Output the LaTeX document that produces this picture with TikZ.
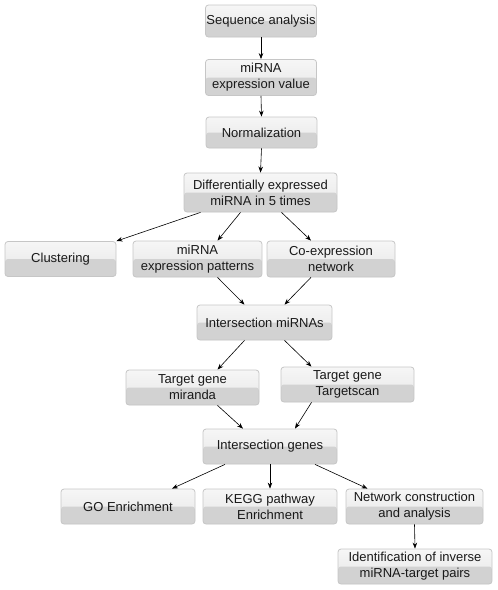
\documentclass[tikz,border=0pt]{standalone}
\usepackage{fontspec}
\setmainfont{Liberation Sans}
\usetikzlibrary{arrows.meta}
\definecolor{boxhigh}{HTML}{F6F6F6}
\definecolor{boxtop}{HTML}{E6E6E6}
\definecolor{boxlow}{HTML}{D2D2D2}
\definecolor{boxedge}{HTML}{C6C6C6}
\tikzset{
  flowbox/.style={draw=boxedge, line width=0.8pt, rounded corners=3pt,
    top color=boxhigh, bottom color=boxtop, align=center,
    minimum height=35pt, inner xsep=0pt, inner ysep=1pt,
    font=\fontsize{13}{16}\selectfont, text=black!90,
    path picture={\fill[boxlow] (path picture bounding box.west)
      rectangle (path picture bounding box.south east);}},
  flowarrow/.style={-{Stealth[length=6pt,width=4.5pt]}, line width=0.6pt}
}
\begin{document}
\begin{tikzpicture}[x=1pt,y=-1pt]
    \useasboundingbox (0,0) rectangle (498,590);
    \node[flowbox, minimum width=111pt, minimum height=32pt] (seq) at (261,21) {Sequence analysis};
    \node[flowbox, minimum width=111pt, minimum height=36pt] (mirna) at (261,77.5) {miRNA\\expression value};
    \node[flowbox, minimum width=111pt, minimum height=31pt] (norm) at (261.5,132.5) {Normalization};
    \node[flowbox, minimum width=153pt, minimum height=39pt] (diff) at (260.5,192.5) {Differentially expressed\\miRNA in 5 times};
    \node[flowbox, minimum width=111pt] (clus) at (60.5,259) {Clustering};
    \node[flowbox, minimum width=129pt, minimum height=36pt] (patt) at (197.5,259) {miRNA\\expression patterns};
    \node[flowbox, minimum width=128pt, minimum height=36pt] (coexp) at (331,259) {Co-expression\\network};
    \node[flowbox, minimum width=135pt] (intm) at (264.5,322.5) {Intersection miRNAs};
    \node[flowbox, minimum width=133pt] (mir) at (192.5,387.5) {Target gene\\miranda};
    \node[flowbox, minimum width=133pt] (tscan) at (347.5,384.5) {Target gene\\Targetscan};
    \node[flowbox, minimum width=134pt] (intg) at (270,446.5) {Intersection genes};
    \node[flowbox, minimum width=134pt] (go) at (128,506.5) {GO Enrichment};
    \node[flowbox, minimum width=134pt] (kegg) at (270,506.5) {KEGG pathway\\Enrichment};
    \node[flowbox, minimum width=137pt] (net) at (414.5,506.5) {Network construction\\and analysis};
    \node[flowbox, minimum width=154pt] (ident) at (415,566.5) {Identification of inverse\\miRNA-target pairs};
    % connectors
    \draw[flowarrow] (seq.south) -- (mirna.north);
    \draw[flowarrow] (mirna.south) -- (norm.north);
    \draw[flowarrow] (norm.south) -- (diff.north);
    \draw[flowarrow] ([xshift=-60pt]diff.south) -- (clus.north east);
    \draw[flowarrow] ([xshift=-20pt]diff.south) -- ([xshift=20pt]patt.north);
    \draw[flowarrow] ([xshift=21pt]diff.south) -- ([xshift=-20pt]coexp.north);
    \draw[flowarrow] ([xshift=20pt]patt.south) -- ([xshift=-20pt]intm.north);
    \draw[flowarrow] ([xshift=-20pt]coexp.south) -- ([xshift=20pt]intm.north);
    \draw[flowarrow] ([xshift=-20pt]intm.south) -- ([xshift=25pt]mir.north);
    \draw[flowarrow] ([xshift=20pt]intm.south) -- ([xshift=-36pt]tscan.north);
    \draw[flowarrow] ([xshift=25pt]mir.south) -- ([xshift=-27pt]intg.north);
    \draw[flowarrow] ([xshift=-36pt]tscan.south) -- ([xshift=25pt]intg.north);
    \draw[flowarrow] ([xshift=-45pt]intg.south) -- ([xshift=44pt]go.north);
    \draw[flowarrow] (intg.south) -- (kegg.north);
    \draw[flowarrow] ([xshift=45pt]intg.south) -- ([xshift=-47pt]net.north);
    \draw[flowarrow] (net.south) -- (ident.north);
\end{tikzpicture}
\end{document}
